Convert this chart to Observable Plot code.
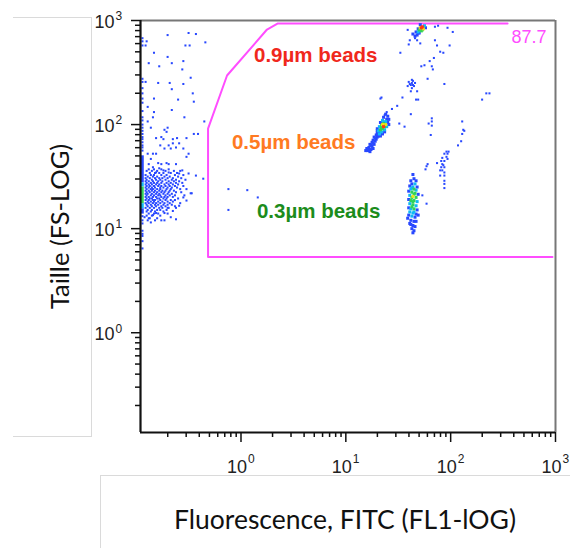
<!DOCTYPE html>
<html><head><meta charset="utf-8">
<script src="https://cdn.jsdelivr.net/npm/d3@7"></script>
<script src="https://cdn.jsdelivr.net/npm/@observablehq/plot@0.6"></script>
<style>
html,body{margin:0;padding:0;background:#fff;}
#wrap{position:relative;width:570px;height:548px;overflow:hidden;background:#fff;}
#chart{position:absolute;left:0;top:0;}
.faint{position:absolute;border-color:#dadada;border-style:solid;border-width:0;pointer-events:none;}
</style></head><body>
<div id="wrap">
<div id="chart"></div>
<div class="faint" style="left:13px;top:17px;width:78px;height:418px;border-top-width:1px;border-right-width:1px;border-bottom-width:1px;"></div>
<div class="faint" style="left:100px;top:475px;width:480px;height:80px;border-top-width:1px;border-left-width:1px;"></div>
</div>
<script>
// ---- axes ----
const domainX = [0.11, 1000];
const domainY = [0.11, 1000];
const majorTicks = [1, 10, 100, 1000];
const tickExponents = ["0", "1", "2", "3"];
const minorTicks = [0.2,0.3,0.4,0.5,0.6,0.7,0.8,0.9,2,3,4,5,6,7,8,9,20,30,40,50,60,70,80,90,200,300,400,500,600,700,800,900];
const xTitle = "Fluorescence, FITC (FL1-lOG)";
const yTitle = "Taille (FS-LOG)";

// ---- gate (FL1, FS) ----
const gateX = [349, 2.25, 1.77, 0.736, 0.485, 0.485, 936];
const gateY = [936, 936, 819, 296, 91.6, 5.35, 5.35];
const gatePercent = "87.7";
const gatePercentPos = [381, 687];

// ---- bead labels ----
const beadLabels = ["0.9\u00b5m beads", "0.5\u00b5m beads", "0.3\u00b5m beads"];
const beadColors = ["#f0281c", "#ff7a22", "#1c8c1c"];
const beadX = [1.33, 0.82, 1.42];
const beadY = [460, 67, 14.6];

// ---- density colour levels ----
const palette = ["#2848ff", "#12b8f5", "#30d25a", "#ece21a", "#ff3812"];

// ---- events, read as [log10 FL1, log10 FS] ----
const debrisLog = [
 [-0.70,2.86],[-0.50,2.88],[-0.43,2.87],[-0.90,2.80],[-0.34,2.79],[-0.91,2.76],[-0.53,2.76],[-0.49,2.76],
 [-0.83,2.69],[-0.70,2.65],[-0.88,2.59],[-0.78,2.56],[-0.66,2.59],[-0.55,2.61],[-0.56,2.53],[-0.48,2.45],
 [-0.91,2.41],[-0.79,2.40],[-0.68,2.40],[-0.55,2.39],[-0.66,2.34],[-0.46,2.30],[-0.83,2.25],[-0.60,2.24],
 [-0.45,2.22],[-0.89,2.17],[-0.66,2.14],[-0.83,2.12],[-0.84,2.07],[-0.54,2.07],[-0.89,2.03],[-0.35,2.03],
 [-0.70,1.97],[-0.73,1.95],[-0.71,1.93],[-0.86,1.97],[-0.45,1.91],[-0.41,1.91],[-0.61,1.87],[-0.76,1.88],
 [-0.81,1.87],[-0.52,1.87],[-0.65,1.86],[-0.74,1.86],[-0.77,1.80],[-0.69,1.80],[-0.65,1.82],[-0.59,1.82],
 [-0.73,1.77],[-0.67,1.77],[-0.62,1.78],[-0.55,1.77],[-0.89,1.72],[-0.84,1.72],[-0.81,1.72],[-0.50,1.72],
 [-0.52,1.69],[-0.86,1.67],[-0.79,1.63],[-0.76,1.62],[-0.71,1.63],[-0.69,1.62],[-0.62,1.62],[-0.88,1.62],
 [-0.84,1.59],[-0.78,1.58],[-0.74,1.56],[-0.81,1.54],[-0.69,1.54],[-0.59,1.53],[-0.50,1.53],[-0.36,1.48],
 [-0.43,1.51],[-0.56,1.56],[-0.47,1.34],[-0.12,1.38],[0.06,1.37],[-0.12,1.18],[0.16,1.30],[-0.52,1.27],
 [-0.48,1.34],[-0.55,1.30],[-0.59,1.22],[-0.62,1.20],[-0.65,1.17],[-0.73,1.15],[-0.70,1.20],[-0.76,1.08],
 [-0.67,1.11],[-0.62,1.09],[-0.84,1.13],[-0.88,1.10],[-0.81,1.15],[-0.86,1.06],[-0.92,1.11]
];
// dense debris core: [log10 FS, [log10 FL1 ...]]
const coreRows = [
 [1.57,  [-0.88,-0.83,-0.76,-0.69]],
 [1.555, [-0.90,-0.85,-0.80,-0.72,-0.64,-0.58]],
 [1.535, [-0.87,-0.82,-0.78,-0.74,-0.67,-0.61]],
 [1.515, [-0.91,-0.86,-0.83,-0.76,-0.71,-0.63,-0.55]],
 [1.50,  [-0.89,-0.84,-0.80,-0.73,-0.68,-0.60]],
 [1.485, [-0.91,-0.87,-0.82,-0.78,-0.75,-0.70,-0.65,-0.57]],
 [1.47,  [-0.90,-0.85,-0.81,-0.77,-0.72,-0.66,-0.62,-0.53]],
 [1.455, [-0.91,-0.88,-0.84,-0.79,-0.75,-0.69,-0.64,-0.59]],
 [1.44,  [-0.90,-0.86,-0.83,-0.80,-0.76,-0.71,-0.67,-0.62,-0.56]],
 [1.425, [-0.91,-0.88,-0.85,-0.81,-0.78,-0.73,-0.69,-0.65,-0.60]],
 [1.41,  [-0.90,-0.87,-0.83,-0.79,-0.76,-0.72,-0.68,-0.63,-0.55]],
 [1.395, [-0.91,-0.88,-0.85,-0.82,-0.77,-0.74,-0.70,-0.66,-0.61]],
 [1.38,  [-0.90,-0.86,-0.84,-0.80,-0.77,-0.71,-0.67,-0.58,-0.52]],
 [1.365, [-0.91,-0.88,-0.85,-0.82,-0.78,-0.75,-0.72,-0.68,-0.64]],
 [1.35,  [-0.90,-0.87,-0.83,-0.80,-0.76,-0.73,-0.69,-0.62,-0.57]],
 [1.335, [-0.91,-0.89,-0.85,-0.81,-0.78,-0.74,-0.70,-0.66]],
 [1.32,  [-0.90,-0.86,-0.83,-0.79,-0.77,-0.72,-0.68,-0.63,-0.54]],
 [1.305, [-0.91,-0.88,-0.84,-0.81,-0.76,-0.73,-0.70,-0.65]],
 [1.29,  [-0.90,-0.87,-0.85,-0.80,-0.78,-0.74,-0.71,-0.60]],
 [1.275, [-0.91,-0.88,-0.84,-0.82,-0.77,-0.72,-0.67,-0.63]],
 [1.26,  [-0.89,-0.86,-0.83,-0.79,-0.75,-0.70,-0.65]],
 [1.245, [-0.91,-0.88,-0.84,-0.81,-0.77,-0.73,-0.68,-0.58]],
 [1.23,  [-0.90,-0.86,-0.82,-0.79,-0.74,-0.70,-0.66]],
 [1.215, [-0.89,-0.85,-0.81,-0.76,-0.72,-0.63]],
 [1.20,  [-0.91,-0.87,-0.83,-0.78,-0.75,-0.69]],
 [1.18,  [-0.89,-0.85,-0.80,-0.77,-0.71]],
 [1.165, [-0.90,-0.86,-0.82,-0.74]],
 [1.145, [-0.88,-0.83,-0.79,-0.70]],
 [1.125, [-0.90,-0.85,-0.77]],
 [1.10,  [-0.87,-0.80]],
 [1.08,  [-0.89,-0.82,-0.73]]
];
// events piled on the FL1 minimum (left edge)
const edgeFL1Log = -0.94;
const edgeFSLog = [2.83,2.80,2.76,2.44,2.41,2.35,2.30,2.25,2.21,2.13,2.07,2.04,2.00,1.97,1.94,1.91,1.88,1.86,1.83,1.80,1.78,1.75,1.12,1.08,1.05,0.98,0.95,0.93,0.88,0.81];
// solid edge column bins: [log10 FS top, log10 FS bottom, density level]
const edgeBins = [[1.70,1.44,0],[1.44,1.40,1],[1.40,1.24,2],[1.24,1.19,1],[1.19,1.14,0]];
const edgeFL1Range = [0.1125, 0.1195];

// sparse events right of the gate edge
const scatterLog = [
 [1.85,2.94],[1.88,2.95],[1.97,2.93],[2.02,2.89],[1.59,2.91],[1.61,2.81],[1.66,2.83],[1.68,2.81],[1.60,2.77],
 [1.71,2.78],[1.85,2.81],[1.87,2.76],[1.99,2.76],[1.52,2.69],[1.90,2.70],[1.93,2.69],[1.84,2.64],[1.80,2.61],
 [1.75,2.57],[1.72,2.56],[1.82,2.56],[1.83,2.53],[1.78,2.44],[1.94,2.39],
 [1.63,2.43],[1.61,2.39],[1.64,2.38],[1.66,2.40],[1.59,2.37],[1.63,2.35],[1.62,2.32],[1.68,2.32],[1.69,2.24],
 [1.67,2.24],[1.54,2.26],[1.63,2.40],[1.62,2.38],[1.65,2.37],[1.60,2.41],[1.64,2.42],
 [1.33,2.25],[1.34,2.26],[2.34,2.30],[2.30,2.24],[2.37,2.30],[1.49,2.18],[1.44,2.15],[1.39,2.12],[1.37,2.09],
 [1.62,2.10],[1.51,2.01],[1.56,1.98],[1.82,2.06],[1.79,2.01],[1.82,1.99],[1.82,2.03],[1.81,1.90],
 [2.11,2.03],[2.12,1.95],[2.13,1.94],[2.11,1.91],[2.10,1.84],[2.07,1.80],
 [1.96,1.74],[1.98,1.74],[1.94,1.72],[1.97,1.72],[1.92,1.68],[1.96,1.69],[1.91,1.65],[1.94,1.65],[1.87,1.63],
 [1.92,1.62],[1.91,1.59],[1.94,1.59],[1.90,1.56],[1.92,1.56],[1.94,1.54],[1.90,1.51],[1.94,1.51],[1.77,1.60],
 [1.76,1.57],[1.94,1.46],[1.94,1.43],[1.94,1.39],[1.97,1.67],[1.93,1.61],[1.78,1.62],[1.73,1.32],[1.77,1.24]
];
// bead populations: [log10 FL1, log10 FS, density level]
const bead09Log = [
 [1.73,2.94,4],[1.71,2.93,3],[1.74,2.92,3],[1.70,2.91,2],[1.72,2.90,2],[1.75,2.95,1],[1.69,2.89,1],[1.69,2.88,0],
 [1.68,2.86,0],[1.70,2.88,0],[1.67,2.89,0],[1.76,2.93,0],[1.71,2.96,0],[1.69,2.92,0],[1.66,2.85,0],[1.64,2.87,0],
 [1.72,2.93,4],[1.73,2.91,2]
];
const bead05Log = [
 [1.38,2.10,0],[1.40,2.08,0],[1.36,2.07,0],[1.39,2.05,0],[1.41,2.05,0],[1.35,2.04,1],[1.38,2.03,1],[1.40,2.02,0],
 [1.33,2.02,0],[1.36,2.01,2],[1.38,2.00,3],[1.34,1.99,2],[1.36,1.98,4],[1.39,1.98,1],[1.32,1.98,1],[1.35,1.96,2],
 [1.33,1.95,2],[1.37,1.95,1],[1.31,1.94,1],[1.34,1.93,1],[1.30,1.92,0],[1.32,1.91,1],[1.35,1.91,0],[1.29,1.90,0],
 [1.31,1.89,0],[1.30,1.88,0],[1.27,1.88,0],[1.29,1.86,0],[1.26,1.85,0],[1.28,1.84,0],[1.25,1.83,0],[1.27,1.81,0],
 [1.23,1.81,0],[1.25,1.79,0],[1.22,1.78,0],[1.24,1.76,0],[1.21,1.75,0],[1.23,1.74,0],[1.26,1.77,0],[1.30,1.96,0],
 [1.41,2.00,0],[1.30,1.94,0],[1.37,1.93,0],[1.33,1.89,0],[1.37,1.98,2],[1.35,2.00,3],[1.34,1.97,2],[1.37,2.02,1],
 [1.32,1.93,0],[1.30,1.90,0],[1.28,1.87,0],[1.26,1.82,0],[1.24,1.80,0],[1.22,1.76,0],[1.20,1.77,0],[1.19,1.75,0]
];
const bead03Log = [
 [1.64,1.52,0],[1.65,1.48,0],[1.62,1.46,0],[1.67,1.46,0],[1.63,1.43,0],[1.66,1.43,1],[1.61,1.41,0],[1.68,1.40,0],
 [1.64,1.40,1],[1.62,1.38,1],[1.65,1.38,2],[1.67,1.37,1],[1.60,1.36,0],[1.63,1.35,2],[1.66,1.34,2],[1.69,1.33,0],
 [1.61,1.32,1],[1.64,1.31,3],[1.67,1.30,2],[1.60,1.28,0],[1.62,1.27,2],[1.65,1.27,2],[1.68,1.26,1],[1.61,1.24,1],
 [1.64,1.23,2],[1.67,1.22,1],[1.60,1.20,0],[1.62,1.19,1],[1.65,1.19,2],[1.68,1.18,0],[1.61,1.16,1],[1.64,1.15,1],
 [1.67,1.14,0],[1.60,1.13,0],[1.63,1.12,1],[1.66,1.11,0],[1.62,1.08,0],[1.65,1.07,0],[1.61,1.05,0],[1.64,1.03,0],
 [1.66,1.02,0],[1.63,1.00,0],[1.65,0.98,0],[1.64,0.96,0],[1.59,1.10,0],[1.69,1.13,0],
 [1.63,1.30,2],[1.65,1.33,2],[1.64,1.26,2],[1.63,1.21,2],[1.65,1.16,1],[1.63,1.39,1],[1.62,1.04,0],[1.67,1.07,0]
];

// ---- build tables ----
const sparse = [
 ...debrisLog.map(([a,b]) => ({x: 10**a, y: 10**b, level: 0})),
 ...coreRows.flatMap(([b, xs]) => xs.map(a => ({x: 10**a, y: 10**b, level: 0}))),
 ...edgeFSLog.map(b => ({x: 10**edgeFL1Log, y: 10**b, level: 0})),
 ...scatterLog.map(([a,b]) => ({x: 10**a, y: 10**b, level: 0}))
];
const dense = [...bead09Log, ...bead05Log, ...bead03Log]
 .map(([a,b,l]) => ({x: 10**a, y: 10**b, level: l}))
 .sort((p,q) => p.level - q.level);
const gate = gateX.map((x,i) => ({x, y: gateY[i]}));
const edge = edgeBins.map(([t,b,l]) => ({x1: edgeFL1Range[0], x2: edgeFL1Range[1], y1: 10**b, y2: 10**t, level: l}));

const tickFont = "Liberation Sans, Arial, sans-serif";
const titleFont = "Lato, 'Open Sans', sans-serif";

const chart = Plot.plot({
 width: 570, height: 548,
 marginLeft: 140, marginRight: 15, marginTop: 20, marginBottom: 116,
 style: {background: "transparent", fontFamily: tickFont, overflow: "visible"},
 x: {type: "log", domain: domainX},
 y: {type: "log", domain: domainY},
 color: {type: "ordinal", domain: [0,1,2,3,4], range: palette},
 marks: [
  Plot.line(gate, {x: "x", y: "y", stroke: "#ff4dff", strokeWidth: 2}),
  Plot.dot(sparse, {x: "x", y: "y", fill: "level", r: 1.15, symbol: "square"}),
  Plot.rect(edge, {x1: "x1", x2: "x2", y1: "y1", y2: "y2", fill: "level"}),
  Plot.dot(dense, {x: "x", y: "y", fill: "level", r: 1.7, symbol: "square"}),
  Plot.ruleY([domainY[1]], {stroke: "#777", strokeWidth: 2}),
  Plot.ruleX([domainX[1]], {stroke: "#777", strokeWidth: 2}),
  Plot.ruleX([domainX[0]], {stroke: "#111", strokeWidth: 2.2}),
  Plot.ruleY([domainY[0]], {stroke: "#111", strokeWidth: 2}),
  Plot.axisX({ticks: majorTicks, tickSize: 10, tickFormat: () => "", stroke: "#111", strokeWidth: 1.5, label: null}),
  Plot.axisX({ticks: minorTicks, tickSize: 5, tickFormat: () => "", stroke: "#111", strokeWidth: 1.5, label: null}),
  Plot.axisY({ticks: majorTicks, tickSize: 9, tickFormat: () => "", stroke: "#111", strokeWidth: 1.5, label: null}),
  Plot.axisY({ticks: minorTicks, tickSize: 5, tickFormat: () => "", stroke: "#111", strokeWidth: 1.5, label: null}),
  Plot.text(majorTicks, {x: d => d, frameAnchor: "bottom", text: () => "10", textAnchor: "end", lineAnchor: "bottom", dx: 6, dy: 40, fontSize: 18, fill: "#222"}),
  Plot.text(majorTicks, {x: d => d, frameAnchor: "bottom", text: (d,i) => tickExponents[i], textAnchor: "start", lineAnchor: "bottom", dx: 7, dy: 30, fontSize: 12, fill: "#222"}),
  Plot.text(majorTicks, {y: d => d, frameAnchor: "left", text: () => "10", textAnchor: "end", lineAnchor: "middle", dx: -26, dy: 2, fontSize: 18, fill: "#222"}),
  Plot.text(majorTicks, {y: d => d, frameAnchor: "left", text: (d,i) => tickExponents[i], textAnchor: "start", lineAnchor: "middle", dx: -25, dy: -4, fontSize: 12, fill: "#222"}),
  ...beadLabels.map((t,i) => Plot.text([t], {x: () => beadX[i], y: () => beadY[i], text: d => d, textAnchor: "start", lineAnchor: "middle", fontSize: 20.5, fontWeight: "bold", fill: beadColors[i]})),
  Plot.text([gatePercent], {x: () => gatePercentPos[0], y: () => gatePercentPos[1], text: d => d, textAnchor: "start", lineAnchor: "middle", fontSize: 18, fill: "#ff4dff"}),
  Plot.text([yTitle], {frameAnchor: "left", text: d => d, rotate: -90, dx: -80, textAnchor: "middle", lineAnchor: "middle", fontSize: 25.5, fontFamily: titleFont, fill: "#111"}),
  Plot.text([xTitle], {frameAnchor: "bottom", text: d => d, dx: -3, dy: 96, textAnchor: "middle", lineAnchor: "bottom", fontSize: 26.5, fontFamily: titleFont, fill: "#111"})
 ]
});
document.getElementById("chart").appendChild(chart);
</script>
</body></html>
